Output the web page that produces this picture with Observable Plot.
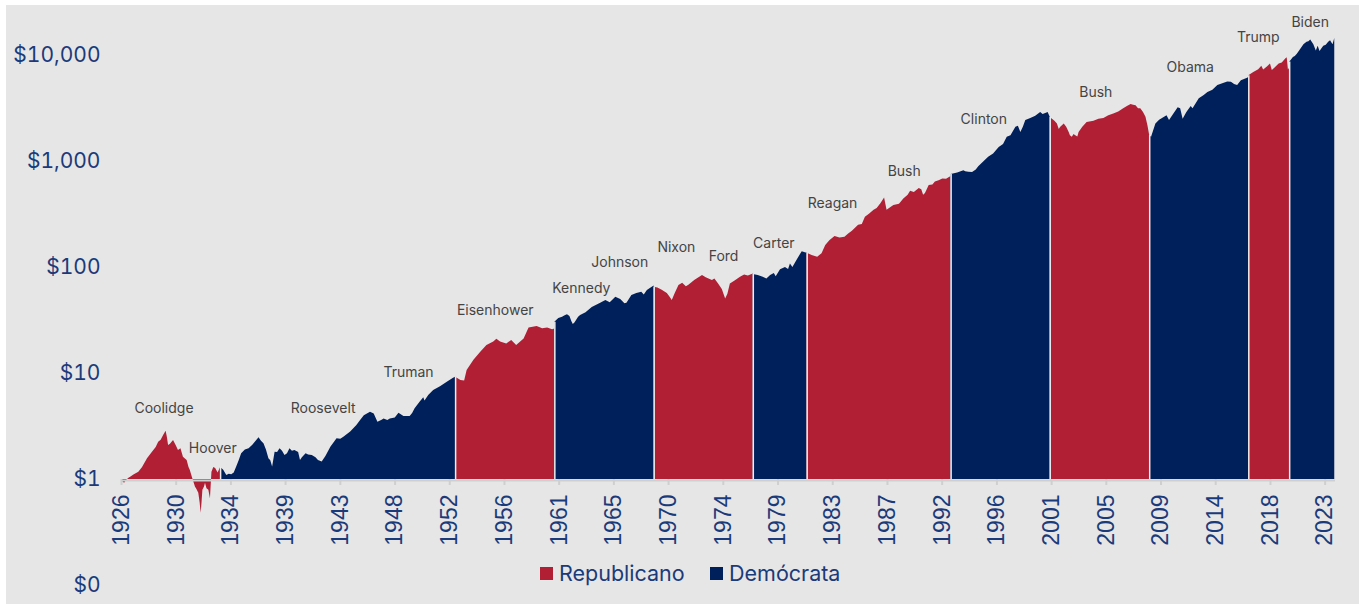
<!DOCTYPE html>
<html>
<head>
<meta charset="utf-8">
<script src="https://cdn.jsdelivr.net/npm/d3@7"></script>
<script src="https://cdn.jsdelivr.net/npm/@observablehq/plot@0.6"></script>
<style>
  html, body { margin: 0; padding: 0; background: #ffffff; }
  #wrap { position: absolute; left: 6px; top: 5px; width: 1353px; height: 599px; background: #e6e6e6; overflow: hidden; }
  #chart { position: absolute; left: 0; top: 0; }
  .lg { position: absolute; top: 556px; height: 24px; display: flex; align-items: center; font-family: Inter, "Liberation Sans", sans-serif; font-size: 21.5px; color: #1b3a7a; white-space: nowrap; }
  .lg span.sw { display: inline-block; width: 13px; height: 13px; margin-right: 6px; }
</style>
</head>
<body>
<div id="wrap">
  <div id="chart"></div>
  <div class="lg" style="left:534px"><span class="sw" style="background:#b11f35"></span>Republicano</div>
  <div class="lg" style="left:704px"><span class="sw" style="background:#00205b"></span>Demócrata</div>
</div>
<script>
// ---- data: growth of $1 (decimal year, value), one array per party run ----
const coolidgeHoover = [
  [1926.0,1.00],[1926.1,0.95],[1926.25,0.92],[1926.4,0.98],[1926.6,1.03],[1926.8,1.06],[1927.0,1.10],
  [1927.4,1.17],[1927.7,1.30],[1928.1,1.57],[1928.5,1.81],[1928.8,2.0],[1929.0,2.25],[1929.2,2.35],
  [1929.4,2.6],[1929.6,2.85],[1929.7,2.5],[1929.8,2.09],[1929.95,2.15],[1930.2,2.33],[1930.4,2.1],
  [1930.6,1.88],[1930.8,1.95],[1931.0,1.62],[1931.3,1.51],[1931.45,1.3],[1931.55,1.22],[1931.75,1.02],
  [1931.97,0.85],[1932.1,0.8],[1932.24,0.74],[1932.35,0.6],[1932.43,0.48],[1932.5,0.6],[1932.57,0.79],
  [1932.7,0.85],[1932.78,0.92],[1932.9,0.82],[1933.05,0.79],[1933.18,0.66],[1933.3,1.17],[1933.45,1.3],
  [1933.6,1.27],[1933.8,1.15],[1934.0,1.3]
];
const rooseveltTruman = [
  [1934.0,1.3],[1934.25,1.22],[1934.5,1.09],[1934.7,1.12],[1934.9,1.11],[1935.1,1.15],[1935.3,1.31],
  [1935.5,1.5],[1935.7,1.75],[1936.0,1.9],[1936.3,1.95],[1936.6,2.1],[1936.8,2.25],[1937.1,2.47],
  [1937.3,2.3],[1937.5,2.17],[1937.7,1.9],[1937.9,1.57],[1938.05,1.5],[1938.2,1.31],[1938.4,1.81],
  [1938.6,1.8],[1938.8,1.95],[1939.0,1.85],[1939.2,1.68],[1939.4,1.75],[1939.6,1.95],[1939.8,1.85],
  [1940.0,1.88],[1940.3,1.8],[1940.45,1.51],[1940.6,1.6],[1940.9,1.75],[1941.1,1.7],[1941.4,1.68],
  [1941.7,1.6],[1941.9,1.51],[1942.2,1.46],[1942.5,1.65],[1942.9,2.02],[1943.4,2.42],[1943.7,2.4],
  [1943.95,2.5],[1944.5,2.8],[1945.0,3.23],[1945.3,3.6],[1945.6,4.0],[1946.1,4.31],[1946.4,4.16],
  [1946.7,3.47],[1947.0,3.6],[1947.2,3.73],[1947.5,3.6],[1947.7,3.73],[1948.1,3.8],[1948.4,4.22],
  [1948.8,3.93],[1949.3,3.93],[1949.5,4.2],[1949.7,4.64],[1950.1,5.36],[1950.4,5.9],[1950.5,5.5],
  [1950.8,6.2],[1951.2,6.9],[1951.75,7.5],[1952.3,8.27],[1952.8,9.0],[1952.97,9.2]
];
const eisenhower = [
  [1952.97,9.2],[1953.4,8.6],[1953.7,8.5],[1953.9,10.7],[1954.45,13.3],[1955.0,15.9],[1955.5,18.4],
  [1956.05,19.8],[1956.3,21],[1956.6,19.8],[1957.1,19.0],[1957.5,20.5],[1957.9,18.4],[1958.5,21.2],
  [1958.9,26.8],[1959.55,27.8],[1960.0,26.5],[1960.4,26.8],[1960.8,25.8],[1960.98,26.3]
];
const kennedyJohnson = [
  [1960.98,30.5],[1961.3,33],[1961.6,34],[1961.85,35.2],[1962.0,35.8],[1962.2,34.5],[1962.35,31],
  [1962.47,29],[1962.6,30],[1962.9,34],[1963.06,35.2],[1963.5,37.5],[1964.0,42],[1964.6,45.5],
  [1965.1,48.8],[1965.45,46.5],[1965.7,49.5],[1965.9,52.4],[1966.3,50],[1966.64,45.5],[1966.8,46],
  [1967.2,54.5],[1967.6,57],[1968.0,58.4],[1968.2,55],[1968.45,60.6],[1968.9,66],[1969.0,67]
];
const nixonFord = [
  [1969.0,65],[1969.3,64],[1969.65,61],[1970.06,57],[1970.3,52],[1970.46,48.8],[1970.7,57],
  [1971.0,67.7],[1971.3,71],[1971.6,66],[1971.8,68],[1972.3,76],[1972.9,84],[1973.2,80],
  [1973.7,75.4],[1973.9,78],[1974.2,70],[1974.5,62],[1974.77,50.5],[1974.95,56],[1975.15,70],
  [1975.5,74],[1975.97,80.8],[1976.3,85],[1976.6,83],[1977.0,87]
];
const carter = [
  [1977.0,86],[1977.4,84],[1977.8,81],[1978.1,78],[1978.4,84],[1978.7,88],[1978.85,82],[1979.2,95],
  [1979.6,100],[1979.85,96],[1980.0,108],[1980.2,100],[1980.5,115],[1980.8,132],[1980.95,141],
  [1981.2,138],[1981.35,136]
];
const reaganBush = [
  [1981.35,136],[1981.75,130],[1982.2,125],[1982.55,135],[1982.85,161],[1983.2,180],[1983.6,196],
  [1984.0,190],[1984.4,193],[1984.7,207],[1985.0,220],[1985.5,250],[1985.8,255],[1986.05,298],
  [1986.4,320],[1986.75,346],[1987.0,360],[1987.3,400],[1987.6,453],[1987.8,346],[1988.0,360],
  [1988.35,385],[1988.8,395],[1989.15,443],[1989.5,480],[1989.7,525],[1990.0,510],[1990.4,555],
  [1990.6,540],[1990.75,480],[1990.9,500],[1991.2,594],[1991.5,600],[1991.7,640],[1992.0,660],
  [1992.3,685],[1992.6,680],[1992.97,720]
];
const clinton = [
  [1992.97,752],[1993.5,780],[1994.0,819],[1994.15,800],[1994.4,790],[1994.7,789],[1995.0,830],
  [1995.2,894],[1995.6,990],[1996.0,1096],[1996.4,1180],[1996.85,1354],[1997.2,1450],[1997.5,1690],
  [1997.8,1750],[1998.2,2099],[1998.4,2150],[1998.6,1876],[1998.8,2100],[1999.0,2437],[1999.4,2550],
  [1999.8,2670],[2000.2,2895],[2000.4,2780],[2000.6,2837],[2000.8,2900],[2000.97,2615]
];
const bush = [
  [2000.97,2600],[2001.15,2500],[2001.35,2400],[2001.55,2263],[2001.7,2000],[2001.8,2096],[2002.1,2263],
  [2002.3,2100],[2002.5,1876],[2002.6,1750],[2002.75,1690],[2002.9,1800],[2003.0,1760],[2003.2,1700],
  [2003.3,1876],[2003.6,2100],[2003.95,2335],[2004.5,2400],[2004.9,2500],[2005.3,2550],[2005.7,2700],
  [2006.1,2800],[2006.5,2930],[2006.9,3150],[2007.2,3300],[2007.5,3450],[2007.7,3400],[2007.9,3350],
  [2008.1,3150],[2008.28,3150],[2008.5,2900],[2008.7,2620],[2008.86,2160],[2009.0,1750]
];
const obama = [
  [2009.0,1760],[2009.15,1690],[2009.5,2263],[2009.8,2450],[2010.2,2620],[2010.4,2700],[2010.6,2437],
  [2010.9,2750],[2011.3,3210],[2011.5,3150],[2011.7,2500],[2012.0,2900],[2012.35,3300],[2012.5,3150],
  [2013.0,3900],[2013.4,4200],[2013.7,4470],[2014.1,4700],[2014.5,5200],[2014.9,5400],[2015.3,5620],
  [2015.6,5600],[2015.85,5320],[2016.1,5200],[2016.4,5770],[2016.9,6100],[2017.0,6200]
];
const trump = [
  [2017.0,6450],[2017.4,6900],[2017.8,7350],[2018.05,7900],[2018.2,7300],[2018.5,7790],[2018.75,8300],
  [2018.9,7200],[2019.1,7600],[2019.45,8300],[2019.7,8500],[2020.0,9300],[2020.1,9500],[2020.2,7300],
  [2020.3,7600]
];
const biden = [
  [2020.3,8700],[2020.4,8900],[2020.6,9600],[2020.75,9800],[2020.9,10200],[2021.1,11000],[2021.45,12600],
  [2021.7,13300],[2021.85,13500],[2022.0,14000],[2022.25,12600],[2022.45,11000],[2022.6,12200],
  [2022.75,10900],[2023.05,12200],[2023.25,12500],[2023.45,13300],[2023.6,13800],[2023.8,12600],
  [2023.94,14500]
];

const parties = ["Republicano", "Demócrata"];
const runs = [
  ["Republicano", coolidgeHoover], ["Demócrata", rooseveltTruman], ["Republicano", eisenhower],
  ["Demócrata", kennedyJohnson], ["Republicano", nixonFord], ["Demócrata", carter],
  ["Republicano", reaganBush], ["Demócrata", clinton], ["Republicano", bush],
  ["Demócrata", obama], ["Republicano", trump], ["Demócrata", biden]
];

// president name labels: [name, decimal year, value]
const presidentLabels = [
  ["Coolidge",1929.43,4.68],["Hoover",1933.37,1.96],["Roosevelt",1942.28,4.68],["Truman",1949.17,10.3],
  ["Eisenhower",1956.17,39.7],["Kennedy",1963.12,63.4],["Johnson",1966.22,111.5],["Nixon",1970.79,155],
  ["Ford",1974.6,127.5],["Carter",1978.66,166.6],["Reagan",1983.4,401.6],["Bush",1989.18,808],
  ["Clinton",1995.61,2464],["Bush",2004.65,4506],["Obama",2012.27,7624],["Trump",2017.77,14785],
  ["Biden",2021.96,20620]
];

// x ticks (every 53 months) and their labels
const tickDates = ["1926-01","1930-06","1934-11","1939-04","1943-09","1948-02","1952-07","1956-12",
  "1961-05","1965-10","1970-03","1974-08","1979-01","1983-06","1987-11","1992-04","1996-09","2001-02",
  "2005-07","2009-12","2014-05","2018-10","2023-03"];
const tickLabels = ["1926","1930","1934","1939","1943","1948","1952","1956","1961","1965","1970","1974",
  "1979","1983","1987","1992","1996","2001","2005","2009","2014","2018","2023"];
const yTicks = [0.1, 1, 10, 100, 1000, 10000];

// ---- build ----
const RED = "#b11f35", NAVY = "#00205b", TXT = "#1b3a7a";
const toDate = y => {
  const yr = Math.floor(y);
  const a = Date.UTC(yr, 0, 1), b = Date.UTC(yr + 1, 0, 1);
  return new Date(a + (y - yr) * (b - a));
};
const data = runs.flatMap(([party, pts], i) => pts.map(([y, v]) => ({date: toDate(y), value: v, party, run: i})));
const boundaries = runs.slice(1).map(([party, pts]) => ({date: toDate(pts[0][0]), value: pts[0][1]}));
const labels = presidentLabels.map(([name, y, v]) => ({name, date: toDate(y), value: v}));
const ticks = tickDates.map(s => new Date(s + "-01T00:00:00Z"));
const tickText = new Map(ticks.map((d, i) => [+d, tickLabels[i]]));

const chart = Plot.plot({
  width: 1353,
  height: 599,
  marginLeft: 115,
  marginRight: 24,
  marginTop: 0,
  marginBottom: 125,
  style: {background: "transparent", fontFamily: "Inter, 'Liberation Sans', sans-serif", overflow: "visible"},
  x: {type: "utc", label: null, domain: [new Date("1926-01-01T00:00:00Z"), new Date("2024-01-01T00:00:00Z")]},
  y: {type: "log", label: null, domain: [0.1, 10000], range: [580, 50]},
  color: {domain: parties, range: [RED, NAVY]},
  marks: [
    Plot.areaY(data, {x: "date", y1: 1, y2: "value", z: "run", fill: "party"}),
    Plot.ruleX(boundaries, {x: "date", y1: 1, y2: "value", stroke: "#ececec", strokeWidth: 1.5}),
    Plot.ruleY([1], {stroke: "#cfcfcf", strokeWidth: 2, dy: 1}),
    Plot.axisY({ticks: yTicks, tickFormat: d3.format("$,.0f"), tickSize: 0, tickPadding: 21, label: null,
      fontSize: 21, fill: TXT, fontFamily: "Inter, sans-serif"}),
    Plot.axisX({ticks, tickFormat: d => tickText.get(+d), tickRotate: -90, tickSize: 6, tickPadding: 9, label: null,
      stroke: "#cfcfcf", strokeWidth: 2, fill: TXT, fontSize: 23, fontFamily: "'Liberation Sans', Arial, sans-serif"}),
    Plot.text(labels, {x: "date", y: "value", text: "name", fontSize: 14, fill: "#444444",
      fontFamily: "Inter, sans-serif"})
  ]
});
document.getElementById("chart").appendChild(chart);
</script>
</body>
</html>
